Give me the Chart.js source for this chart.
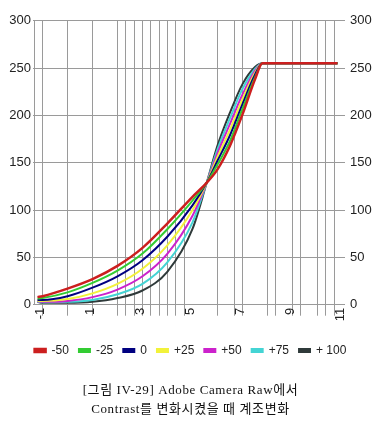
<!DOCTYPE html>
<html>
<head>
<meta charset="utf-8">
<script src="https://cdn.jsdelivr.net/npm/chart.js@4"></script>
<style>
    html, body { margin: 0; padding: 0; background: #fff; }
    #wrap { position: relative; width: 381px; height: 440px; }
    #caption {
        position: absolute; left: 0; top: 380px; width: 381px;
        text-align: center; font-family: 'Liberation Serif', 'Noto Sans CJK KR', serif;
        font-size: 13px; line-height: 19px; color: #111; letter-spacing: 0.6px;
    }
</style>
</head>
<body>
<div id="wrap">
    <canvas id="toneChart" width="381" height="440"></canvas>
    <div id="caption">[그림 IV-29] Adobe Camera Raw에서<br>Contrast를 변화시켰을 때 계조변화</div>
</div>
<script>
// Series names and colours (legend order)
const seriesNames = ['-50', '-25', '0', '+25', '+50', '+75', '+ 100'];
const seriesColors = ['#cc1f1f', '#33cc33', '#000080', '#f2f23a', '#cc22cc', '#44d4d4', '#2f3a3a'];

const xSamples = [-1.2, -1, 0, 1, 2, 3, 4, 5, 5.57, 6, 6.5, 7, 7.5, 7.8, 10.8];

// output level per contrast setting
const minus50 = [8, 9, 17, 27, 41, 60, 86, 114, 129, 143, 168, 201, 238, 255, 255];
const minus25 = [6.5, 7, 13, 23, 36, 54, 80, 110, 129, 148, 173, 207, 240, 255, 255];
const zero    = [5, 5, 9, 18, 30, 47, 72, 105, 129, 152, 179, 212, 243, 255, 255];
const plus25  = [4, 4, 6, 12, 22, 38, 63, 100, 129, 156, 185, 217, 245, 255, 255];
const plus50  = [3.5, 3, 4, 8, 16, 30, 54, 94, 129, 160, 191, 222, 247, 255, 255];
const plus75  = [3, 2.5, 3, 5, 11, 22, 45, 87, 129, 164, 197, 228, 249, 255, 255];
const plus100 = [3, 2, 2, 3, 7, 15, 35, 80, 129, 168, 203, 233, 251, 255, 255];
const seriesValues = [minus50, minus25, zero, plus25, plus50, plus75, plus100];

// vertical grid lines and labelled ticks of the x axis
const xGridLines = [-1, 0, 1, 2, 2.33, 2.67, 3, 3.33, 3.67, 4, 4.33, 4.67, 6, 6.67, 7, 8, 8.33, 9, 9.33, 10, 10.33, 10.67];
const xTickLabels = [-1, 1, 3, 5, 7, 9, 11];
const yTicks = [0, 50, 100, 150, 200, 250, 300];

const tickFont = { family: "'Liberation Sans', Arial, sans-serif", size: 13 };
const gridColor = '#9a9a9a';

const datasets = seriesValues.map((vals, i) => ({
    label: seriesNames[i],
    data: xSamples.map((x, j) => ({ x: x, y: vals[j] })),
    borderColor: seriesColors[i],
    backgroundColor: seriesColors[i],
    borderWidth: i === 0 ? 2.5 : 2,
    pointRadius: 0,
    cubicInterpolationMode: 'monotone',
    fill: false
}));

const xTickValues = [...new Set([...xGridLines, ...xTickLabels])].sort((a, b) => a - b);

new Chart(document.getElementById('toneChart'), {
    type: 'line',
    data: { datasets: datasets },
    options: {
        responsive: false,
        animation: false,
        layout: { padding: { top: 20.7, bottom: 73.5, left: 0, right: 0 } },
        plugins: {
            tooltip: { enabled: false },
            legend: {
                position: 'bottom',
                labels: {
                    boxWidth: 11,
                    boxHeight: 3,
                    padding: 10,
                    color: '#222',
                    font: { family: "'Liberation Sans', Arial, sans-serif", size: 12 }
                }
            }
        },
        scales: {
            x: {
                type: 'linear',
                min: -1.34,
                max: 11.1,
                afterBuildTicks: (scale) => {
                    scale.ticks = xTickValues.map(v => ({ value: v }));
                },
                afterFit: (scale) => { scale.height = 29.8; },
                grid: {
                    color: (ctx) => (ctx.tick && xGridLines.includes(ctx.tick.value)) ? gridColor : 'rgba(0,0,0,0)',
                    tickLength: 11,
                    lineWidth: 1
                },
                border: { display: false },
                ticks: {
                    autoSkip: false,
                    minRotation: 90,
                    maxRotation: 90,
                    padding: -8,
                    labelOffset: -2,
                    color: '#222',
                    font: tickFont,
                    callback: (value) => xTickLabels.includes(value) ? String(value) : ''
                }
            },
            y: {
                position: 'left',
                min: 0,
                max: 300,
                afterBuildTicks: (scale) => {
                    scale.ticks = yTicks.map(v => ({ value: v }));
                },
                afterFit: (scale) => { scale.width = 34; },
                grid: { color: gridColor, tickLength: 1 },
                border: { display: true, color: gridColor },
                ticks: { padding: 2, color: '#222', font: tickFont }
            },
            y2: {
                position: 'right',
                min: 0,
                max: 300,
                afterBuildTicks: (scale) => {
                    scale.ticks = yTicks.map(v => ({ value: v }));
                },
                afterFit: (scale) => { scale.width = 36; },
                grid: { drawOnChartArea: false, tickLength: 0 },
                border: { display: false },
                ticks: { padding: 5, color: '#222', font: tickFont }
            }
        }
    }
});
</script>
</body>
</html>
